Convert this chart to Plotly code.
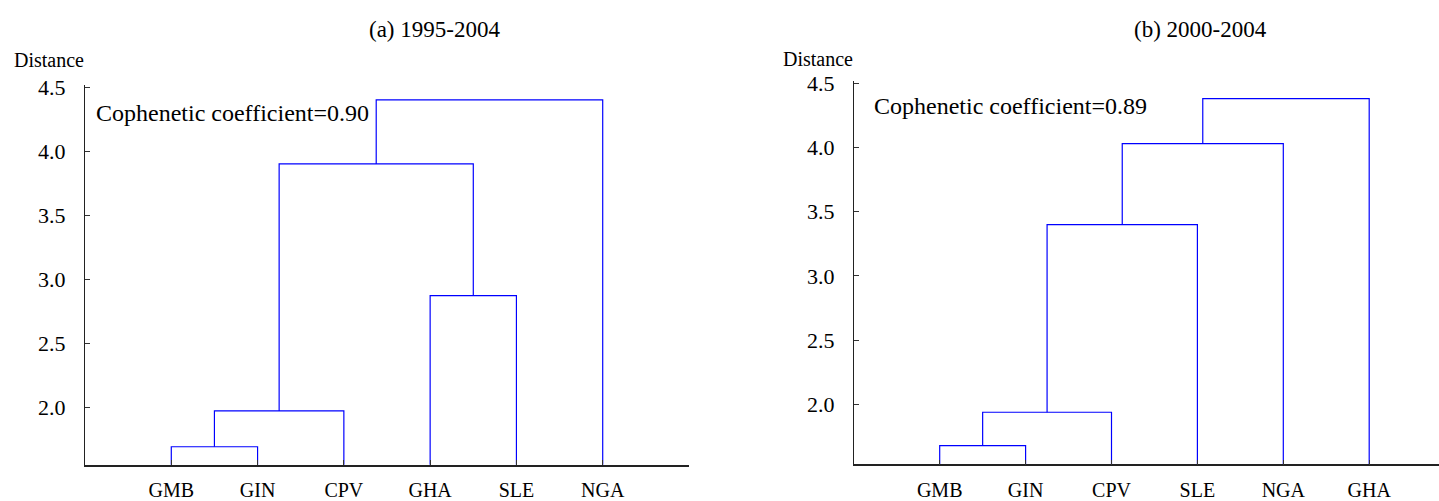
import plotly.graph_objects as go

# Panel (a): 1995-2004
leaves_a = ["GMB", "GIN", "CPV", "GHA", "SLE", "NGA"]
merges_a = [(0, 1), (6, 2), (3, 4), (7, 8), (9, 5)]
heights_a = [1.69, 1.97, 2.87, 3.90, 4.40]
coef_a = "0.90"

# Panel (b): 2000-2004
leaves_b = ["GMB", "GIN", "CPV", "SLE", "NGA", "GHA"]
merges_b = [(0, 1), (6, 2), (7, 3), (8, 4), (9, 5)]
heights_b = [1.68, 1.94, 3.40, 4.03, 4.38]
coef_b = "0.89"

y_ticks = [2.0, 2.5, 3.0, 3.5, 4.0, 4.5]

FONT = "Liberation Serif"
LINE = "#0000ff"


def link_paths(n_leaves, merges, heights):
    """U-shaped link segments for a dendrogram with leaves at 1..n."""
    xpos = {i: float(i + 1) for i in range(n_leaves)}
    hpos = {i: 0.0 for i in range(n_leaves)}
    paths = []
    for k, ((a, b), h) in enumerate(zip(merges, heights)):
        cid = n_leaves + k
        xa, xb = xpos[a], xpos[b]
        paths.append(([xa, xa, xb, xb], [hpos[a], h, h, hpos[b]]))
        xpos[cid] = (xa + xb) / 2
        hpos[cid] = h
    return paths


fig = go.Figure()

for leaves, merges, heights, xa, ya in [
    (leaves_a, merges_a, heights_a, "x", "y"),
    (leaves_b, merges_b, heights_b, "x2", "y2"),
]:
    for xs, ys in link_paths(len(leaves), merges, heights):
        fig.add_trace(go.Scatter(
            x=xs, y=ys, mode="lines", xaxis=xa, yaxis=ya,
            line=dict(color=LINE, width=1.2), hoverinfo="skip", showlegend=False,
        ))

axis_common = dict(
    showgrid=False, zeroline=False, showline=True, linecolor="#222222",
    ticks="inside", tickcolor="#333333", ticklen=5,
)
xfont = dict(family=FONT, size=20, color="black")
yfont = dict(family=FONT, size=22, color="black")

fig.update_layout(
    width=1439, height=501,
    margin=dict(l=0, r=0, t=0, b=0),
    paper_bgcolor="white", plot_bgcolor="white",
    showlegend=False,
    xaxis=dict(
        domain=[85 / 1439, 689 / 1439], range=[0, 7],
        tickvals=list(range(1, len(leaves_a) + 1)), ticktext=leaves_a,
        anchor="y", linewidth=1.5, ticklabelstandoff=7, tickfont=xfont, **axis_common,
    ),
    yaxis=dict(
        domain=[(501 - 468.7) / 501, (501 - 77.5) / 501], range=[1.55, 4.515],
        tickvals=y_ticks, ticktext=[f"{v:.1f}" for v in y_ticks],
        anchor="x", linewidth=1, ticklabelstandoff=14, tickfont=yfont, **axis_common,
    ),
    xaxis2=dict(
        domain=[853.8 / 1439, 1.0], range=[0, (1439 - 853.8) / 85.9],
        tickvals=list(range(1, len(leaves_b) + 1)), ticktext=leaves_b,
        anchor="y2", linewidth=1.5, ticklabelstandoff=7, tickfont=xfont, **axis_common,
    ),
    yaxis2=dict(
        domain=[(501 - 468.3) / 501, (501 - 73.5) / 501], range=[1.535, 4.515],
        tickvals=y_ticks, ticktext=[f"{v:.1f}" for v in y_ticks],
        anchor="x2", linewidth=1, ticklabelstandoff=14, tickfont=yfont, **axis_common,
    ),
)

txt = dict(family=FONT, color="black")
annotations = [
    dict(text="(a) 1995-2004", x=435, y=20, font=dict(size=23, **txt), xanchor="center"),
    dict(text="(b) 2000-2004", x=1200, y=20, font=dict(size=23, **txt), xanchor="center"),
    dict(text="Distance", x=12, y=52, font=dict(size=20, **txt), xanchor="left"),
    dict(text="Distance", x=781, y=50, font=dict(size=20, **txt), xanchor="left"),
    dict(text=f"Cophenetic coefficient={coef_a}", x=94, y=106,
         font=dict(size=24, **txt), xanchor="left"),
    dict(text=f"Cophenetic coefficient={coef_b}", x=872, y=99,
         font=dict(size=24, **txt), xanchor="left"),
]
for a in annotations:
    fig.add_annotation(
        text=a["text"], xref="paper", yref="paper",
        x=a["x"] / 1439, y=1 - a["y"] / 501,
        xanchor=a["xanchor"], yanchor="middle",
        showarrow=False, font=a["font"],
    )

fig.write_html("out.html")
